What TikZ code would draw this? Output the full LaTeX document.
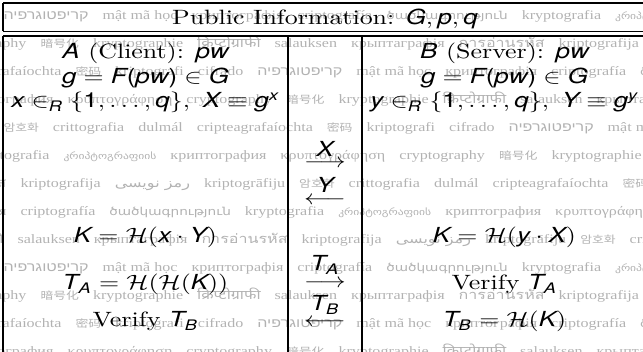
\documentclass[tikz,border=0pt]{standalone}
\usepackage{amsmath}
\usepackage{fontspec}
\TeXXeTstate=1
\newfontfamily\hv{TeX Gyre Heros}
\newfontfamily\wmserif{Liberation Serif}
\newfontfamily\wmheb[Script=Hebrew]{Liberation Sans}
\newfontfamily\wmara[Script=Arabic]{DejaVu Sans}
\newfontfamily\wmcjk[Scale=0.8]{Noto Sans CJK SC}
\newfontfamily\wmdeva[Script=Devanagari]{Noto Sans}
\newfontfamily\wmthai[Script=Thai]{Loma}
\newfontfamily\wmdj[Scale=0.85]{DejaVu Sans}
\newfontfamily\wmgeo[Scale=0.72]{DejaVu Sans}
\newcommand\mi[1]{\text{\hv\itshape #1}}
\newcommand\mup[1]{\text{\hv #1}}
\expandafter\def\csname wm0\endcsname{{\wmheb\beginR קריפטוגרפיה\endR}}
\expandafter\def\csname wm1\endcsname{mật mã học}
\expandafter\def\csname wm2\endcsname{криптографія}
\expandafter\def\csname wm3\endcsname{criptografía}
\expandafter\def\csname wm4\endcsname{{\wmdj ծածկագրություն}}
\expandafter\def\csname wm5\endcsname{kryptografia}
\expandafter\def\csname wm6\endcsname{{\wmgeo კრიპტოგრაფიის}}
\expandafter\def\csname wm7\endcsname{криптография}
\expandafter\def\csname wm8\endcsname{κρυπτογράφηση}
\expandafter\def\csname wm9\endcsname{cryptography}
\expandafter\def\csname wm10\endcsname{{\wmcjk 暗号化}}
\expandafter\def\csname wm11\endcsname{kryptographie}
\expandafter\def\csname wm12\endcsname{{\wmdeva क्रिप्टोग्राफी}}
\expandafter\def\csname wm13\endcsname{salauksen}
\expandafter\def\csname wm14\endcsname{крыптаграфія}
\expandafter\def\csname wm15\endcsname{{\wmthai การอ่านรหัส}}
\expandafter\def\csname wm16\endcsname{kriptografija}
\expandafter\def\csname wm17\endcsname{{\wmara\beginR رمز نویسی\endR}}
\expandafter\def\csname wm18\endcsname{kriptogrāfiju}
\expandafter\def\csname wm19\endcsname{{\wmcjk 암호화}}
\expandafter\def\csname wm20\endcsname{crittografia}
\expandafter\def\csname wm21\endcsname{dulmál}
\expandafter\def\csname wm22\endcsname{cripteagrafaíochta}
\expandafter\def\csname wm23\endcsname{{\wmcjk 密码}}
\expandafter\def\csname wm24\endcsname{kriptografi}
\expandafter\def\csname wm25\endcsname{cifrado}
\newcommand\wmrow[2]{\foreach \j in {0,...,#2}{\pgfmathtruncatemacro\k{mod(#1+\j,26)}\csname wm\k\endcsname\hspace{5.4pt}}}
\begin{document}
\begin{tikzpicture}[x=0.386pt,y=-0.386pt,
  wm/.style={inner sep=0pt, yscale=0.8, text=black!30, font=\wmserif\fontsize{6.2}{7}\selectfont},
  txt/.style={inner sep=0pt, anchor=base, yscale=0.8, font=\fontsize{10}{12}\selectfont},
  rule/.style={line width=0.4pt, draw=black}]
\useasboundingbox (0,0) rectangle (643,352);
\begin{scope}
\clip (0,0) rectangle (643,352);
% watermark
\foreach \r/\s/\xs in {1/0/3, 2/10/40, 3/23/75, 4/8/67, 5/19/3, 6/6/63, 7/16/20, 8/3/20, 9/13/17, 10/0/3, 11/10/40, 12/23/75, 13/8/67}{
  \pgfmathsetmacro\yy{20+28*(\r-1)}
  \pgfmathtruncatemacro\pp{mod(\s+25,26)}
  \node[wm, anchor=base west] (wr\r) at (\xs,\yy) {\wmrow{\s}{10}};
  \node[wm, anchor=base east] (wp\r) at (\xs-13,\yy) {\csname wm\pp\endcsname};
}
% rules
\draw[rule] (3,3) -- (660,3);
\draw[rule] (3,31.5) -- (660,31.5);
\draw[rule] (3,36) -- (660,36);
\draw[rule] (3,3) -- (3,31.5);
\draw[rule] (3,36) -- (3,360);
\draw[rule] (288,36) -- (288,360);
\draw[rule] (362,36) -- (362,360);
\end{scope}
% header
\node[txt] (hdr) at (325,25) {Public Information: $\mi{G}, \mi{p}, \mi{q}$};
% left column
\node[txt] (a1) at (145.5,59) {$\mi{A}$ (Client): $\mi{pw}$};
\node[txt] (a2) at (145.5,84) {$\mi{g} = \mi{F}\mup{(}\mi{pw}\mup{)} \in \mi{G}$};
\node[txt] (a3) at (145.5,108) {$\mi{x} \in_{\mi{R}} \{\mup{1}, \ldots, \mi{q}\},\ \mi{X} \equiv \mi{g}^{\mi{x}}$};
\node[txt] (a4) at (145.5,243) {$\mi{K} = \mathcal{H}(\mi{x} \cdot \mi{Y})$};
\node[txt] (a5) at (145.5,290) {$\mi{T}_{\mi{A}} = \mathcal{H}(\mathcal{H}(\mi{K}))$};
\node[txt] (a6) at (145.5,327) {Verify $\mi{T}_{\mi{B}}$};
% middle column
\node[txt] (m1) at (325,157) {$\mi{X}$};
\node[txt] (m1a) at (325,168) {$\longrightarrow$};
\node[txt] (m2) at (325,193) {$\mi{Y}$};
\node[txt] (m2a) at (325,205) {$\longleftarrow$};
\node[txt] (m3) at (325,271) {$\mi{T}_{\mi{A}}$};
\node[txt] (m3a) at (325,288) {$\longrightarrow$};
\node[txt] (m4) at (325,311) {$\mi{T}_{\mi{B}}$};
\node[txt] (m4a) at (325,327) {$\longleftarrow$};
% right column
\node[txt] (b1) at (504.5,59) {$\mi{B}$ (Server): $\mi{pw}$};
\node[txt] (b2) at (504.5,84) {$\mi{g} = \mi{F}\mup{(}\mi{pw}\mup{)} \in \mi{G}$};
\node[txt] (b3) at (504.5,108) {$\mi{y} \in_{\mi{R}} \{\mup{1}, \ldots, \mi{q}\},\ \mi{Y} \equiv \mi{g}^{\mi{y}}$};
\node[txt] (b4) at (504.5,243) {$\mi{K} = \mathcal{H}(\mi{y} \cdot \mi{X})$};
\node[txt] (b5) at (504.5,290) {Verify $\mi{T}_{\mi{A}}$};
\node[txt] (b6) at (504.5,327) {$\mi{T}_{\mi{B}} = \mathcal{H}(\mi{K})$};
\end{tikzpicture}
\end{document}
